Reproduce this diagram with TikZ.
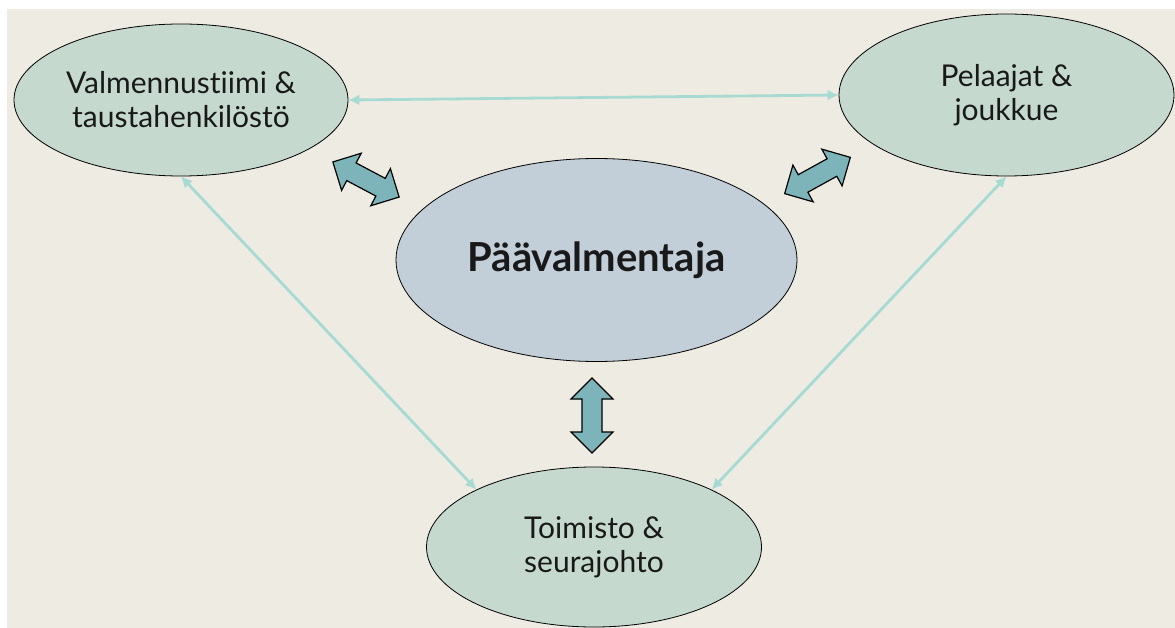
\documentclass[tikz,border=0pt]{standalone}
\usepackage{fontspec}
\setmainfont{Lato}[RawFeature=-liga]
\usetikzlibrary{shapes.geometric,arrows.meta}
\definecolor{bg}{RGB}{238,235,226}
\definecolor{sage}{RGB}{197,217,206}
\definecolor{bluegrey}{RGB}{194,207,217}
\definecolor{teal}{RGB}{125,180,185}
\definecolor{thin}{RGB}{166,218,210}
\tikzset{
  oval/.style={ellipse, draw=black, line width=0.8pt, fill=sage, inner sep=0pt,
    align=center, font=\fontsize{30}{34}\selectfont, text=black!90},
  link/.style={draw=thin, line width=2.8pt, {Latex[length=11pt,width=11pt]}-{Latex[length=11pt,width=11pt]}},
  fatstyle/.style={draw=black, line width=1.2pt, fill=teal, line join=miter},
  fatarr/.pic={
    \path[fatstyle] (-37.5,0) -- (-16.5,21) -- (-16.5,10) -- (16.5,10) -- (16.5,21)
      -- (37.5,0) -- (16.5,-21) -- (16.5,-10) -- (-16.5,-10) -- (-16.5,-21) -- cycle;
  }
}
\begin{document}
\begin{tikzpicture}[x=1pt,y=-1pt]
\useasboundingbox (0,0) rectangle (1175,628);
\fill[white] (0,0) rectangle (1175,628);
\fill[bg] (7,9) rectangle (1175,628);

\node[oval, minimum width=334pt, minimum height=152pt] (L) at (181,100)
  {Valmennustiimi \&\\taustahenkilöstö};
\node[oval, minimum width=335pt, minimum height=162pt] (R) at (1006.5,95)
  {Pelaajat \&\\joukkue};
\node[oval, fill=bluegrey, minimum width=401pt, minimum height=203pt,
  font=\fontsize{40}{44}\selectfont\bfseries] (C) at (596.5,260) {\raisebox{-4pt}{Päävalmentaja}};
\node[oval, minimum width=335pt, minimum height=160pt] (B) at (594,547)
  {Toimisto \&\\seurajohto};

\draw[link] (L.east) -- (R.west);
\draw[link] (L.south) -- (B.154);
\draw[link] (R.south) -- (B.26);

\pic[rotate=-27.9] at (366,179.5) {fatarr};
\pic[rotate=28.9] at (817.5,175.5) {fatarr};
\pic[rotate=90] at (592,415.5) {fatarr};
\end{tikzpicture}
\end{document}
